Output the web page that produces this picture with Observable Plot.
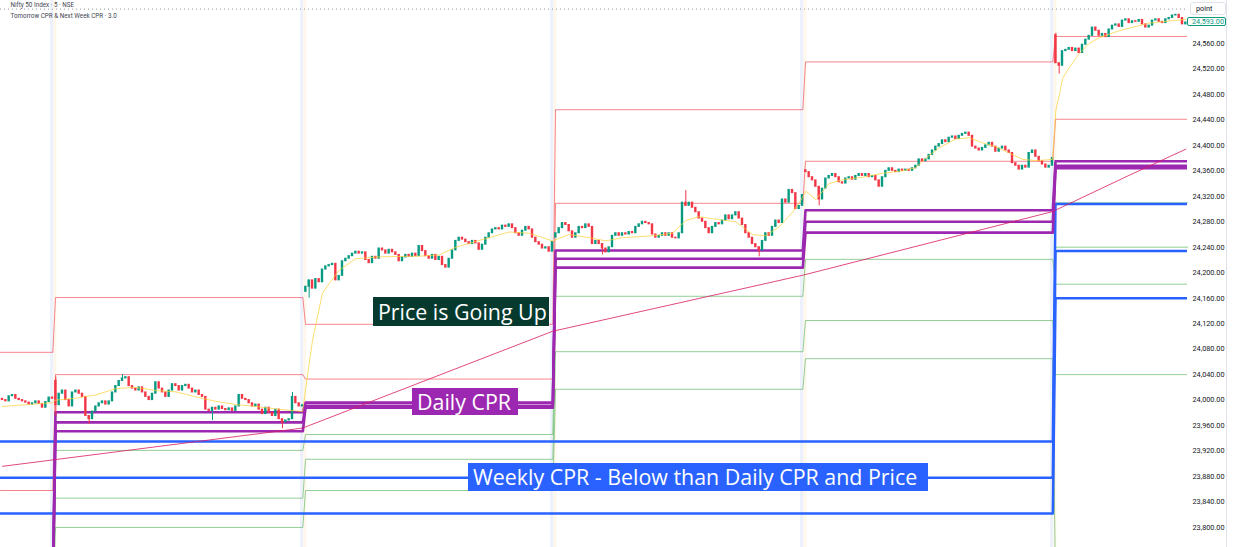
<!DOCTYPE html>
<html><head><meta charset="utf-8">
<script src="https://cdn.jsdelivr.net/npm/d3@7"></script>
<script src="https://cdn.jsdelivr.net/npm/@observablehq/plot@0.6"></script>
<style>
html,body{margin:0;padding:0;background:#fff;overflow:hidden}
#wrap{position:relative;width:1233px;height:547px}
.note{position:absolute;color:#fff;font-family:"Open Sans",sans-serif;font-size:21.4px;line-height:28px;padding-left:5px;box-sizing:border-box;white-space:nowrap}
.tag{position:absolute;font-family:Roboto,sans-serif;font-size:7.3px;box-sizing:border-box;background:#fff;white-space:nowrap}
</style></head><body><div id="wrap"></div>
<script>
// ---- data ----
const sessionStart = [0, 16, 91, 166, 241, 316];
const sessionOpen = [24002, 24030, 24170, 24255, 24361, 24573];
const closeS0 = [24000,23998,24006,24008,24002,24000,23998,23996,23993,23995,23998,23994,23988,23997,24004,24002];
const closeS1 = [23992,24010,24015,24000,23990,24012,24015,24010,24005,23975,
 23970,23982,23990,23995,23998,23993,23998,24012,24022,24030,
 24034,24036,24022,24018,24015,24020,24012,24005,24000,24010,
 24028,24018,24012,24005,24015,24025,24022,24015,24022,24024,
 24018,24012,24015,24008,24005,23985,23983,23988,23985,23990,
 23986,23984,23987,23983,23990,24008,24002,24000,23995,23990,
 23993,23985,23978,23988,23980,23975,23985,23970,23965,23968,
 23970,24005,23995,23990,23992];
const closeS2 = [24178,24188,24175,24190,24185,24205,24210,24212,24214,24188,
 24195,24218,24222,24226,24230,24233,24230,24232,24220,24215,
 24225,24222,24238,24235,24230,24236,24232,24228,24218,24224,
 24228,24225,24230,24226,24242,24234,24226,24222,24228,24220,
 24225,24212,24208,24222,24235,24250,24255,24252,24248,24245,
 24250,24246,24236,24244,24255,24262,24268,24270,24268,24274,
 24272,24276,24270,24262,24258,24266,24272,24268,24255,24248,
 24244,24238,24240,24233,24248];
const closeS3 = [24262,24270,24278,24275,24265,24255,24262,24272,24270,24276,
 24272,24245,24250,24245,24238,24232,24240,24258,24262,24258,
 24262,24260,24264,24262,24272,24276,24280,24278,24276,24260,
 24255,24258,24262,24258,24262,24255,24254,24262,24310,24305,
 24310,24302,24295,24285,24280,24270,24262,24272,24278,24276,
 24282,24290,24284,24290,24295,24285,24275,24262,24255,24245,
 24240,24235,24250,24262,24258,24272,24282,24278,24315,24310,
 24330,24325,24300,24305,24322];
const closeS4 = [24358,24350,24345,24335,24315,24332,24348,24352,24355,24350,
 24342,24340,24348,24350,24346,24352,24355,24352,24355,24350,
 24352,24345,24335,24350,24360,24364,24360,24358,24362,24360,
 24362,24360,24364,24368,24378,24375,24378,24385,24392,24398,
 24402,24408,24405,24412,24414,24410,24415,24418,24420,24415,
 24398,24395,24392,24396,24400,24404,24398,24390,24395,24398,
 24392,24388,24372,24368,24362,24368,24365,24388,24392,24382,
 24375,24370,24365,24368,24380];
const closeS5 = [24529,24525,24548,24550,24553,24548,24552,24545,24558,24566,
 24572,24585,24580,24572,24575,24570,24582,24588,24590,24586,
 24596,24598,24592,24595,24594,24597,24590,24585,24588,24596,
 24598,24594,24592,24598,24600,24604,24605,24600,24590,24593];
// visible wicks: [index, high, low]
const wicks = [[16,24036,23975],[26,null,23962],[36,24040,null],[63,null,23968],[84,null,23955],
 [87,24012,null],[92,null,24160],[180,null,24228],[205,24329,null],[227,null,24225],
 [245,null,24305],[316,24576,null],[317,null,24512]];
// levels per session (0..5)
const redTop   = [24075, 24161, 24119, 24456, 24531, 24571];
const redLow   = [23858, 24040, 24033, 24309, 24375, 24441];
const greenA   = [23700, 23921, 23946, 24163, 24221, 24182];
const greenB   = [23690, 23846, 23907, 24076, 24125, 24040];
const greenC   = [23680, 23800, 23858, 24017, 24065, 23700];
const cprTC    = [23720, 23981, 23996, 24235, 24298, 24375];
const cprPivot = [23710, 23965, 23991, 24222, 24280, 24368];
const cprBC    = [23700, 23951, 23988, 24208, 24263, 24364];
const weekTC   = [23935, 23935, 23935, 23935, 23935, 24308];
const weekPivot= [23878, 23878, 23878, 23878, 23878, 24234];
const weekBC   = [23822, 23822, 23822, 23822, 23822, 24160];
const nextWeekLight = [24310, 24240];
const emaPts = [[0,23896],[90,23956],[165,24108],[240,24196],[315,24296],[338,24353],[355,24394]];
const vwapPts = [[0,23990],[8,23993],[15,23996],[16,24000],[22,24003],[28,24008],[34,24018],[40,24020],[46,24015],[52,24013],[58,24005],[64,23998],[70,23993],[76,23990],[82,23986],[90,23982],
 [93,24094],[96,24168],[98,24183],[101,24204],[106,24222],[113,24225],[125,24226],[131,24228],[136,24240],[146,24255],[152,24264],[158,24262],[165,24250],
 [166,24252],[170,24260],[176,24255],[181,24250],[186,24255],[195,24258],[201,24262],[205,24282],[209,24288],[214,24284],[220,24280],[225,24260],[229,24258],[233,24272],[237,24295],[240,24318],
 [241,24328],[244,24315],[248,24340],[252,24346],[258,24350],[264,24356],[270,24360],[274,24365],[277,24380],[281,24396],[286,24410],[290,24412],[294,24404],[298,24398],[302,24388],[306,24378],[310,24376],[315,24378],
 [316,24455],[317,24478],[318,24505],[320,24522],[323,24544],[326,24560],[329,24569],[335,24580],[344,24592],[355,24598]];
const topDotted = 24614;
const yTicks = [23800,23840,23880,23920,23960,24000,24040,24080,24120,24160,24200,24240,24280,24320,24360,24400,24440,24480,24520,24560];
const headerLines = ["Nifty 50 Index · 5 · NSE", "Tomorrow CPR & Next Week CPR · 3.0"];

// ---- build ----
const closes = [closeS0, closeS1, closeS2, closeS3, closeS4, closeS5];
const candles = [];
closes.forEach((cl, s) => cl.forEach((c, k) => {
  const o = k === 0 ? sessionOpen[s] : cl[k - 1];
  candles.push({i: sessionStart[s] + k, o, c});
}));
const byIdx = new Map(candles.map(d => [d.i, d]));
const wickData = wicks.map(([i, h, l]) => {
  const d = byIdx.get(i);
  return {i, hi: h ?? Math.max(d.o, d.c), lo: l ?? Math.min(d.o, d.c), up: d.c >= d.o};
});
const X0 = -0.6, X1 = 355.5;
const nS = sessionStart.length;
function steps(vals) {
  const pts = [];
  vals.forEach((v, s) => {
    const a = s === 0 ? X0 : sessionStart[s] - 0.1;
    const b = s === nS - 1 ? X1 : sessionStart[s + 1] - 0.9;
    pts.push({i: a, v}, {i: b, v});
  });
  return pts;
}
const last5 = steps([null, null, null, null, null, 0]).slice(-2);
const lightLines = nextWeekLight.map(v => last5.map(p => ({i: p.i, v})));
const up = "#089981", down = "#f23645";
const lvl = (vals, stroke, w, op = 1) => Plot.line(steps(vals), {x: "i", y: "v", stroke, strokeWidth: w, strokeOpacity: op, clip: true});
const bands = sessionStart.slice(1);

const yDom = [23768.5, 24627.5];
const plot = Plot.plot({
  width: 1233, height: 547,
  marginLeft: 0, marginRight: 46, marginTop: 0, marginBottom: 0,
  x: {domain: [X0, X1], axis: null},
  y: {domain: yDom, axis: null},
  style: {fontFamily: "Roboto, sans-serif", background: "#fff"},
  marks: [
    Plot.rect(bands, {x1: d => d - 1.6, x2: d => d - 0.55, fill: "#edf1fc"}),
    Plot.rect(bands, {x1: d => d - 0.55, x2: d => d + 0.35, fill: "#fff7ec"}),
    Plot.ruleY([topDotted], {stroke: "#9598a1", strokeDasharray: "1,3", strokeWidth: 1}),
    ...lightLines.map(l => Plot.line(l, {x: "i", y: "v", stroke: "#b5dfb5", strokeWidth: 1.5})),
    lvl(greenA, "#66bb6a", 1, 0.7),
    lvl(greenB, "#66bb6a", 1, 0.7),
    lvl(greenC, "#66bb6a", 1, 0.7),
    lvl(redTop, "#f23645", 1, 0.6),
    lvl(redLow, "#f23645", 1, 0.6),
    lvl(weekBC, "#2962ff", 2.5),
    lvl(weekPivot, "#2962ff", 2.5),
    lvl(weekTC, "#2962ff", 2.5),
    lvl(cprBC, "#9c27b0", 2.6),
    lvl(cprPivot, "#9c27b0", 2.6),
    lvl(cprTC, "#9c27b0", 2.6),
    Plot.ruleX(wickData, {x: "i", y1: "lo", y2: "hi", stroke: d => d.up ? up : down, strokeWidth: 1, clip: true}),
    Plot.rect(candles, {x1: d => d.i - 0.36, x2: d => d.i + 0.36, y1: "o", y2: "c", fill: d => d.c >= d.o ? up : down, insetTop: -0.5, insetBottom: -0.5, clip: true}),
    Plot.line(vwapPts, {x: d => d[0], y: d => d[1], stroke: "#f9d33f", strokeOpacity: 0.75, strokeWidth: 1, clip: true}),
    Plot.line(emaPts, {x: d => d[0], y: d => d[1], stroke: "#d81b60", strokeOpacity: 0.8, strokeWidth: 1, clip: true}),
    Plot.axisY(yTicks, {anchor: "right", tickSize: 0, tickPadding: 5, tickFormat: d3.format(",.2f"), fontSize: 7.3, color: "#131722"}),
    Plot.text([headerLines[0]], {frameAnchor: "top-left", dx: 10, dy: 2.5, lineAnchor: "top", textAnchor: "start", fontSize: 6.3, fill: "#434651"}),
    Plot.text([headerLines[1]], {frameAnchor: "top-left", dx: 10, dy: 13.5, lineAnchor: "top", textAnchor: "start", fontSize: 6.3, fill: "#434651"})
  ]
});
const wrap = document.getElementById("wrap");
wrap.appendChild(plot);

function addDiv(cls, text, css) {
  const d = document.createElement("div");
  d.className = cls; d.textContent = text;
  Object.assign(d.style, css);
  wrap.appendChild(d);
  return d;
}
// price-axis border
addDiv("", "", {position: "absolute", left: "1226px", top: "0px", width: "1px", height: "547px", background: "#e0e3eb"});
// annotations
addDiv("note", "Price is Going Up", {left: "373px", top: "297px", width: "176px", height: "29px", background: "#063a2f", lineHeight: "29px"});
addDiv("note", "Daily CPR", {left: "412px", top: "388px", width: "106px", height: "27px", background: "#9c27b0", lineHeight: "27px"});
addDiv("note", "Weekly CPR - Below than Daily CPR and Price", {left: "468px", top: "463px", width: "460px", height: "28px", background: "#2962ff", lineHeight: "28px"});
// scale tags
const lastClose = closeS5[closeS5.length - 1];
const yPx = plot.scale("y").apply(lastClose);
addDiv("tag", "point", {left: "1190px", top: "2px", width: "36px", height: "13px", border: "1px solid #e0e3eb", borderRadius: "3px", color: "#131722", paddingLeft: "5px", lineHeight: "11px"});
addDiv("tag", d3.format(",.2f")(lastClose), {left: "1187px", top: (yPx - 4.5) + "px", width: "39px", height: "9px", border: "1px solid #089981", borderRadius: "2px", color: "#089981", paddingLeft: "4px", lineHeight: "7px"});
</script></body></html>
